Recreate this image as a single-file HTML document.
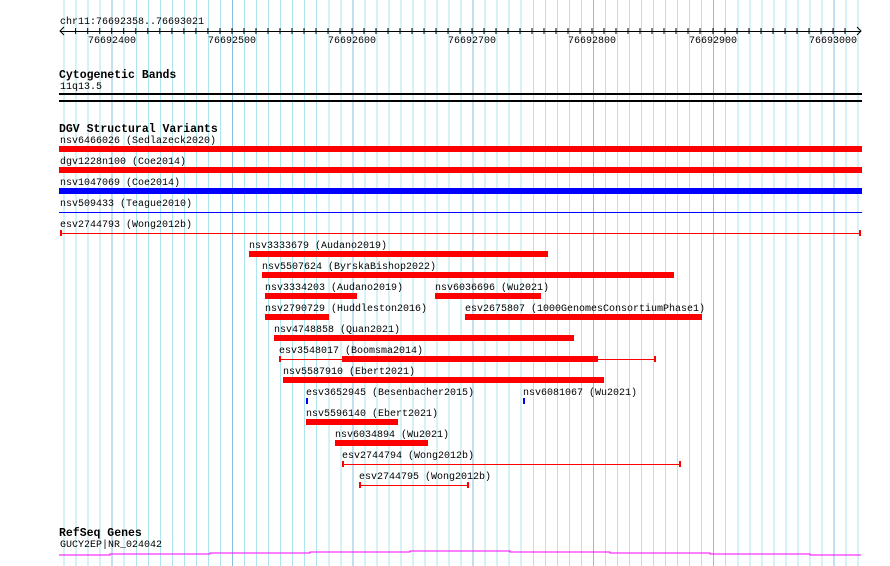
<!DOCTYPE html>
<html><head><meta charset="utf-8"><style>
body{margin:0;background:#fff;}
#c{position:relative;width:890px;height:566px;overflow:hidden;background:#fff;font-family:"Liberation Mono",monospace;font-size:10px;color:#000;}
#g{position:absolute;left:60px;top:0;width:801px;height:566px;
background-image:repeating-linear-gradient(to right,transparent 0,transparent 51.7px,#88bfe0 51.7px,#88bfe0 52.7px,transparent 52.7px,transparent 120.3px),
repeating-linear-gradient(to right,transparent 0,transparent 3.6px,#ade6ec 3.6px,#ade6ec 4.6px,transparent 4.6px,transparent 12.03px);}
.t{position:absolute;line-height:12px;white-space:nowrap;margin-top:2px;}
.h{position:absolute;line-height:12px;font-weight:bold;font-size:11.5px;white-space:nowrap;margin-top:2px;}
.b{position:absolute;background:#f00;height:6px;}
.l{position:absolute;height:1px;}
.cap{position:absolute;width:2px;height:6px;background:#f00;}
</style></head><body><div id="c">
<div id="g"></div>
<div class="t" style="left:60px;top:15px">chr11:76692358..76693021</div>
<div class="l" style="left:60px;top:31px;width:801px;background:#000"></div>
<svg style="position:absolute;left:0;top:0" width="890" height="60">
<polyline points="64,27 60,31 64,35" fill="none" stroke="#000"/>
<polyline points="857,27 861,31 857,35" fill="none" stroke="#000"/>
<g stroke="#000">
<line x1="75.6" y1="28" x2="75.6" y2="34"/><line x1="87.7" y1="28" x2="87.7" y2="34"/><line x1="99.7" y1="28" x2="99.7" y2="34"/><line x1="111.7" y1="28" x2="111.7" y2="34"/><line x1="123.7" y1="28" x2="123.7" y2="34"/><line x1="135.8" y1="28" x2="135.8" y2="34"/><line x1="147.8" y1="28" x2="147.8" y2="34"/><line x1="159.8" y1="28" x2="159.8" y2="34"/><line x1="171.9" y1="28" x2="171.9" y2="34"/><line x1="183.9" y1="28" x2="183.9" y2="34"/><line x1="195.9" y1="28" x2="195.9" y2="34"/><line x1="207.9" y1="28" x2="207.9" y2="34"/><line x1="220" y1="28" x2="220" y2="34"/><line x1="232" y1="28" x2="232" y2="34"/><line x1="244" y1="28" x2="244" y2="34"/><line x1="256" y1="28" x2="256" y2="34"/><line x1="268" y1="28" x2="268" y2="34"/><line x1="280" y1="28" x2="280" y2="34"/><line x1="292" y1="28" x2="292" y2="34"/><line x1="304" y1="28" x2="304" y2="34"/><line x1="316" y1="28" x2="316" y2="34"/><line x1="328" y1="28" x2="328" y2="34"/><line x1="340" y1="28" x2="340" y2="34"/><line x1="352" y1="28" x2="352" y2="34"/><line x1="364" y1="28" x2="364" y2="34"/><line x1="376" y1="28" x2="376" y2="34"/><line x1="388" y1="28" x2="388" y2="34"/><line x1="400" y1="28" x2="400" y2="34"/><line x1="412" y1="28" x2="412" y2="34"/><line x1="424" y1="28" x2="424" y2="34"/><line x1="436" y1="28" x2="436" y2="34"/><line x1="448" y1="28" x2="448" y2="34"/><line x1="460" y1="28" x2="460" y2="34"/><line x1="472" y1="28" x2="472" y2="34"/><line x1="484" y1="28" x2="484" y2="34"/><line x1="496" y1="28" x2="496" y2="34"/><line x1="508" y1="28" x2="508" y2="34"/><line x1="520" y1="28" x2="520" y2="34"/><line x1="532" y1="28" x2="532" y2="34"/><line x1="544" y1="28" x2="544" y2="34"/><line x1="556" y1="28" x2="556" y2="34"/><line x1="568" y1="28" x2="568" y2="34"/><line x1="580" y1="28" x2="580" y2="34"/><line x1="592" y1="28" x2="592" y2="34"/><line x1="604" y1="28" x2="604" y2="34"/><line x1="616" y1="28" x2="616" y2="34"/><line x1="628" y1="28" x2="628" y2="34"/><line x1="640" y1="28" x2="640" y2="34"/><line x1="652" y1="28" x2="652" y2="34"/><line x1="664" y1="28" x2="664" y2="34"/><line x1="676" y1="28" x2="676" y2="34"/><line x1="688" y1="28" x2="688" y2="34"/><line x1="700" y1="28" x2="700" y2="34"/><line x1="713" y1="28" x2="713" y2="34"/><line x1="725" y1="28" x2="725" y2="34"/><line x1="737" y1="28" x2="737" y2="34"/><line x1="749" y1="28" x2="749" y2="34"/><line x1="761" y1="28" x2="761" y2="34"/><line x1="773" y1="28" x2="773" y2="34"/><line x1="785" y1="28" x2="785" y2="34"/><line x1="797" y1="28" x2="797" y2="34"/><line x1="809" y1="28" x2="809" y2="34"/><line x1="821" y1="28" x2="821" y2="34"/><line x1="833" y1="28" x2="833" y2="34"/><line x1="845" y1="28" x2="845" y2="34"/>
</g></svg>
<div class="t" style="left:88px;top:34px">76692400</div>
<div class="t" style="left:208px;top:34px">76692500</div>
<div class="t" style="left:328px;top:34px">76692600</div>
<div class="t" style="left:448px;top:34px">76692700</div>
<div class="t" style="left:568px;top:34px">76692800</div>
<div class="t" style="left:689px;top:34px">76692900</div>
<div class="t" style="left:809px;top:34px">76693000</div>

<div class="h" style="left:59px;top:68px">Cytogenetic Bands</div>
<div class="t" style="left:60px;top:80px">11q13.5</div>
<div class="l" style="left:59px;top:93px;width:803px;height:2px;background:#000"></div>
<div class="l" style="left:59px;top:100px;width:803px;height:2px;background:#000"></div>

<div class="h" style="left:59px;top:122px">DGV Structural Variants</div>
<div class="t" style="left:60px;top:134px">nsv6466026 (Sedlazeck2020)</div>
<div class="b" style="left:59px;top:146px;width:803px"></div>
<div class="t" style="left:60px;top:155px">dgv1228n100 (Coe2014)</div>
<div class="b" style="left:59px;top:167px;width:803px"></div>
<div class="t" style="left:60px;top:176px">nsv1047069 (Coe2014)</div>
<div class="b" style="left:59px;top:188px;width:803px;background:#00f"></div>
<div class="t" style="left:60px;top:197px">nsv509433 (Teague2010)</div>
<div class="l" style="left:59px;top:212px;width:803px;background:#00f"></div>
<div class="t" style="left:60px;top:218px">esv2744793 (Wong2012b)</div>
<div class="l" style="left:60px;top:233px;width:801px;background:#f00"></div>
<div class="cap" style="left:60px;top:230px"></div><div class="cap" style="left:859px;top:230px"></div>

<div class="t" style="left:249px;top:239px">nsv3333679 (Audano2019)</div>
<div class="b" style="left:249px;top:251px;width:299px"></div>
<div class="t" style="left:262px;top:260px">nsv5507624 (ByrskaBishop2022)</div>
<div class="b" style="left:262px;top:272px;width:412px"></div>
<div class="t" style="left:265px;top:281px">nsv3334203 (Audano2019)</div>
<div class="b" style="left:265px;top:293px;width:92px"></div>
<div class="t" style="left:435px;top:281px">nsv6036696 (Wu2021)</div>
<div class="b" style="left:435px;top:293px;width:106px"></div>
<div class="t" style="left:265px;top:302px">nsv2790729 (Huddleston2016)</div>
<div class="b" style="left:265px;top:314px;width:64px"></div>
<div class="t" style="left:465px;top:302px">esv2675807 (1000GenomesConsortiumPhase1)</div>
<div class="b" style="left:465px;top:314px;width:237px"></div>
<div class="t" style="left:274px;top:323px">nsv4748858 (Quan2021)</div>
<div class="b" style="left:274px;top:335px;width:300px"></div>
<div class="t" style="left:279px;top:344px">esv3548017 (Boomsma2014)</div>
<div class="l" style="left:280px;top:359px;width:375px;background:#f00"></div>
<div class="cap" style="left:279px;top:356px"></div><div class="cap" style="left:654px;top:356px"></div>
<div class="b" style="left:342px;top:356px;width:256px"></div>
<div class="t" style="left:283px;top:365px">nsv5587910 (Ebert2021)</div>
<div class="b" style="left:283px;top:377px;width:321px"></div>
<div class="t" style="left:306px;top:386px">esv3652945 (Besenbacher2015)</div>
<div class="b" style="left:306px;top:398px;width:2px;background:#00f"></div>
<div class="t" style="left:523px;top:386px">nsv6081067 (Wu2021)</div>
<div class="b" style="left:523px;top:398px;width:2px;background:#00f"></div>
<div class="t" style="left:306px;top:407px">nsv5596140 (Ebert2021)</div>
<div class="b" style="left:306px;top:419px;width:92px"></div>
<div class="t" style="left:335px;top:428px">nsv6034894 (Wu2021)</div>
<div class="b" style="left:335px;top:440px;width:93px"></div>
<div class="t" style="left:342px;top:449px">esv2744794 (Wong2012b)</div>
<div class="l" style="left:343px;top:464px;width:337px;background:#f00"></div>
<div class="cap" style="left:342px;top:461px"></div><div class="cap" style="left:679px;top:461px"></div>
<div class="t" style="left:359px;top:470px">esv2744795 (Wong2012b)</div>
<div class="l" style="left:360px;top:485px;width:108px;background:#f00"></div>
<div class="cap" style="left:359px;top:482px"></div><div class="cap" style="left:467px;top:482px"></div>

<div class="h" style="left:59px;top:526px">RefSeq Genes</div>
<div class="t" style="left:60px;top:538px">GUCY2EP|NR_024042</div>
<svg style="position:absolute;left:0;top:540px" width="890" height="26">
<polyline points="59,15 110,15 110,14 210,14 210,13 310,13 310,12 410,12 410,11 510,11 510,12 610,12 610,13 710,13 710,14 810,14 810,15 861,15" fill="none" stroke="#f0f" stroke-width="1" shape-rendering="crispEdges"/>
</svg>
</div></body></html>
